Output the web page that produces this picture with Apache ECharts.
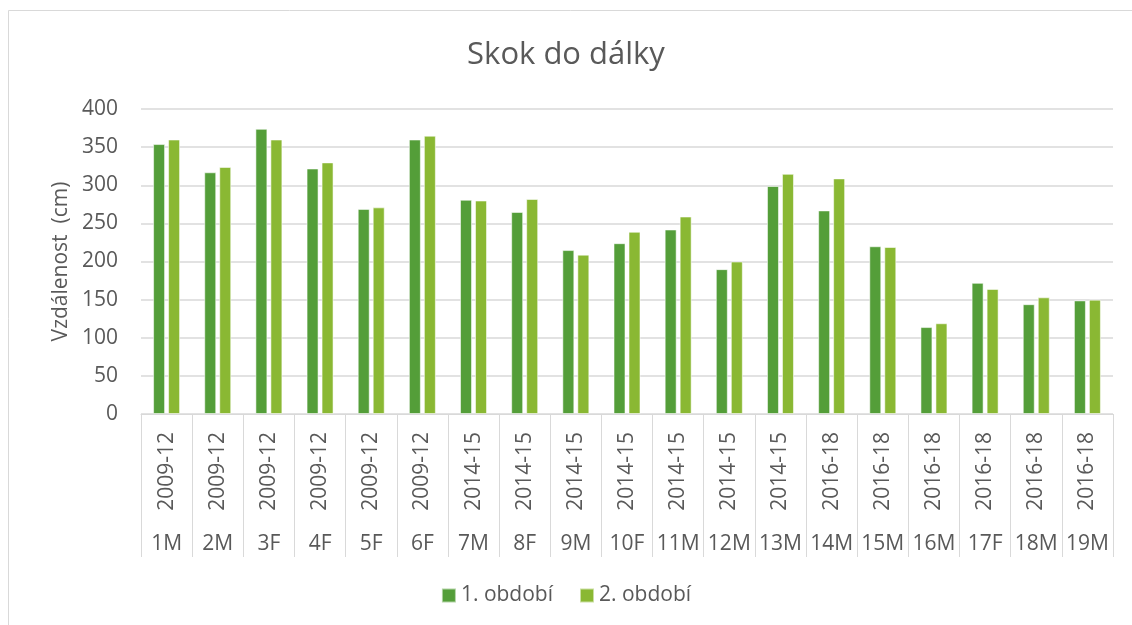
<!DOCTYPE html>
<html>
<head>
<meta charset="utf-8">
<title>Skok do dálky</title>
<script src="https://cdn.jsdelivr.net/npm/echarts@6/dist/echarts.min.js"></script>
<style>
  html, body { margin: 0; padding: 0; background: #fff; }
  #main { width: 1132px; height: 625px; }
</style>
</head>
<body>
<div id="main"></div>
<script>
// data
var years = ['2009-12', '2009-12', '2009-12', '2009-12', '2009-12', '2009-12',
  '2014-15', '2014-15', '2014-15', '2014-15', '2014-15', '2014-15', '2014-15',
  '2016-18', '2016-18', '2016-18', '2016-18', '2016-18', '2016-18'];
var codes = ['1M', '2M', '3F', '4F', '5F', '6F', '7M', '8F', '9M', '10F',
  '11M', '12M', '13M', '14M', '15M', '16M', '17F', '18M', '19M'];
var period1 = [354, 317, 374, 322, 269, 360, 281, 265, 215, 224, 242, 190, 299, 267, 220, 114, 172, 144, 149];
var period2 = [360, 324, 360, 330, 271, 365, 280, 282, 209, 239, 259, 200, 315, 309, 219, 119, 164, 153, 150];
var yTicks = [0, 50, 100, 150, 200, 250, 300, 350, 400];

var textColor = '#595959';
var font = '"Open Sans", "Liberation Sans", sans-serif';

var chart = echarts.init(document.getElementById('main'), null, { renderer: 'canvas' });

var option = {
  backgroundColor: '#fff',
  textStyle: { fontFamily: font, color: textColor },
  animation: false,
  graphic: [
    {
      type: 'rect',
      shape: { x: 8.5, y: 10.5, width: 1200, height: 700 },
      style: { fill: 'none', stroke: '#d9d9d9', lineWidth: 1 },
      silent: true
    }
  ],
  title: {
    text: 'Skok do dálky',
    left: 'center',
    top: 35,
    textStyle: { fontFamily: font, fontSize: 31, fontWeight: 'normal', color: textColor }
  },
  legend: {
    bottom: 14,
    left: 'center',
    itemWidth: 14,
    itemHeight: 14,
    itemGap: 26,
    icon: 'rect',
    textStyle: { fontFamily: font, fontSize: 21, color: textColor },
    data: ['1. období', '2. období']
  },
  grid: {
    left: 141,
    right: 19,
    top: 109,
    bottom: 211
  },
  xAxis: [
    {
      type: 'category',
      data: years,
      axisLine: { show: true, lineStyle: { color: '#d9d9d9', width: 1 } },
      axisTick: { show: true, length: 143, interval: 0, lineStyle: { color: '#d9d9d9', width: 1 } },
      axisLabel: { interval: 0, rotate: 90, margin: 18, fontSize: 21, color: textColor, fontFamily: font }
    },
    {
      type: 'category',
      data: codes,
      position: 'bottom',
      axisLine: { show: false },
      axisTick: { show: false },
      axisLabel: { interval: 0, margin: 120, fontSize: 21, color: textColor, fontFamily: font }
    }
  ],
  yAxis: {
    type: 'value',
    min: yTicks[0],
    max: yTicks[yTicks.length - 1],
    interval: 50,
    name: 'Vzdálenost  (cm)',
    nameLocation: 'middle',
    nameGap: 69,
    nameTextStyle: { fontSize: 21, color: textColor, fontFamily: font },
    axisLine: { show: false },
    axisTick: { show: false },
    axisLabel: { margin: 23, fontSize: 21, color: textColor, fontFamily: font },
    splitLine: { lineStyle: { color: '#d9d9d9', width: 1.5 } }
  },
  series: [
    {
      name: '1. období',
      type: 'bar',
      data: period1,
      barWidth: 12,
      barGap: '25%',
      itemStyle: { color: '#549e39', borderColor: 'rgba(255,255,255,0.55)', borderWidth: 1 }
    },
    {
      name: '2. období',
      type: 'bar',
      data: period2,
      barWidth: 12,
      itemStyle: { color: '#8ab833', borderColor: 'rgba(255,255,255,0.55)', borderWidth: 1 }
    }
  ]
};

chart.setOption(option);
</script>
</body>
</html>
